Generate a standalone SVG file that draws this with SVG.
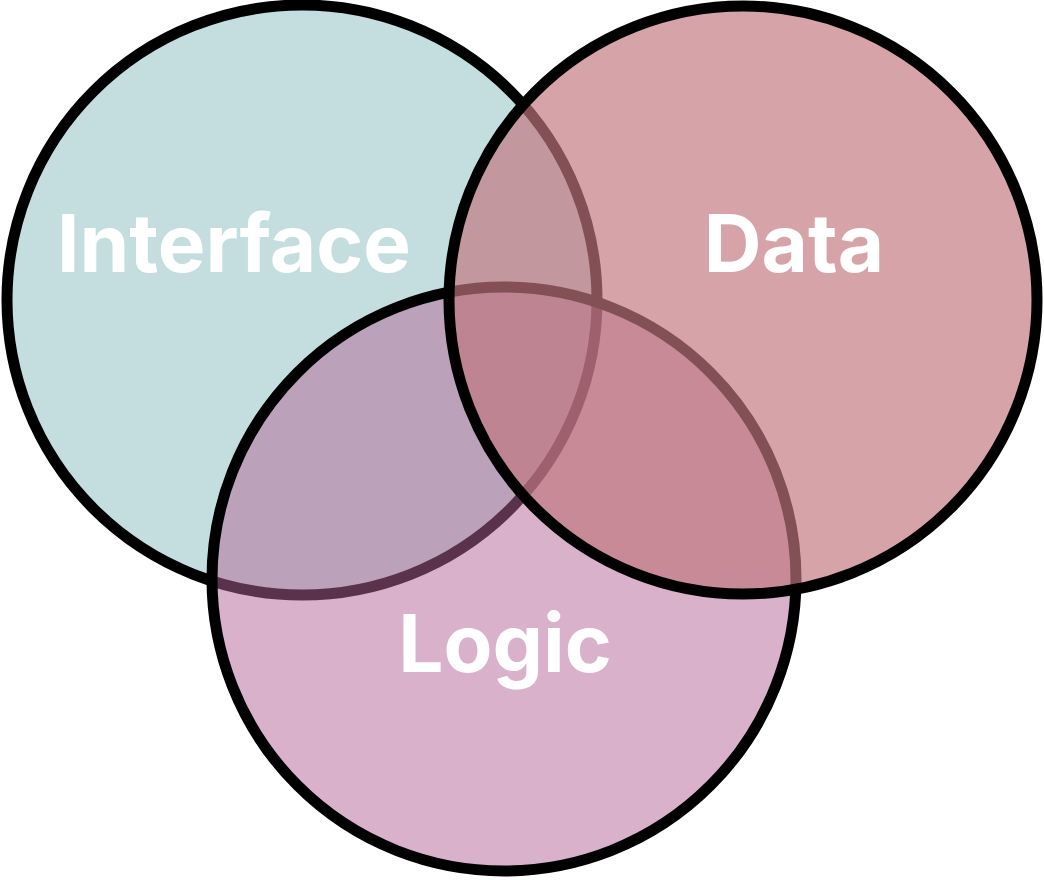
<svg xmlns="http://www.w3.org/2000/svg" width="1044" height="880" viewBox="0 0 1044 880">
<style>
.c{stroke:#000;stroke-width:11}
.t{font-family:Inter,"Liberation Sans",sans-serif;font-weight:700;font-size:80px;fill:#fff;text-anchor:middle}
</style>
<rect width="1044" height="880" fill="#fff"/>
<g id="interface"><circle class="c" cx="302" cy="300" r="295" fill="#c4dedf"/></g>
<g id="logic"><circle class="c" cx="504" cy="579" r="292" fill="rgb(180,100,150)" fill-opacity="0.5"/></g>
<g id="data"><circle class="c" cx="743" cy="300" r="294" fill="rgb(192,118,126)" fill-opacity="0.675"/></g>
<g id="labels">
<text class="t" x="234" y="272">Interface</text>
<text class="t" x="794" y="272">Data</text>
<text class="t" x="505" y="672">Logic</text>
</g>
<g id="connectors"/>
</svg>
